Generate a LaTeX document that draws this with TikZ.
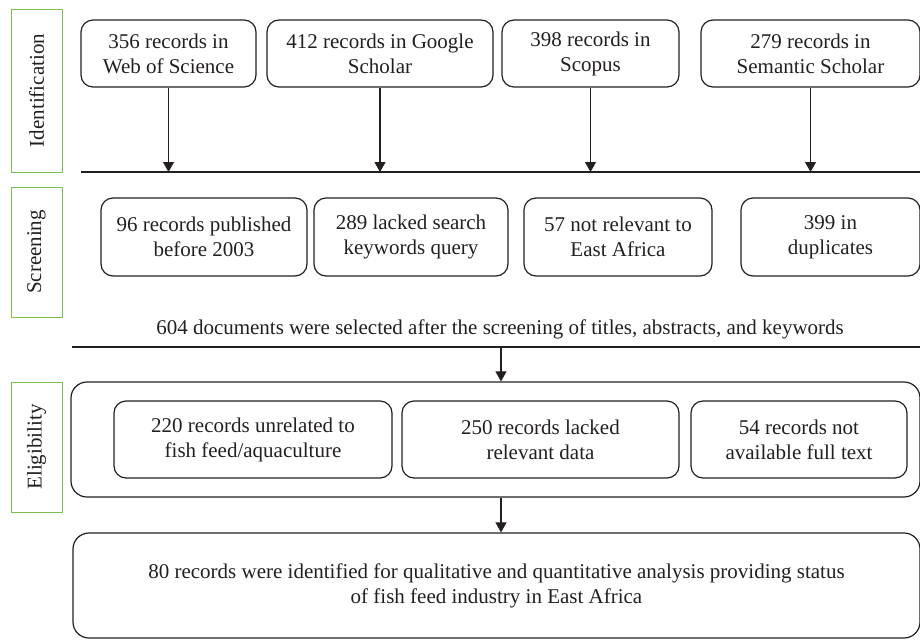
\documentclass[tikz,border=0pt]{standalone}
\usepackage{fontspec}
\setmainfont{Liberation Serif}
\usetikzlibrary{arrows.meta}
\definecolor{lblgreen}{RGB}{122,190,75}
\definecolor{ink}{RGB}{35,31,32}
\begin{document}
\begin{tikzpicture}[x=1pt,y=-1pt, font=\fontsize{21}{25}\selectfont, color=ink,
  box/.style={draw=ink, line width=1.2pt, rounded corners=12pt, align=center, inner sep=0pt},
  big/.style={draw=ink, line width=1.2pt, rounded corners=16pt, align=center, inner sep=0pt},
  lab/.style={draw=lblgreen, line width=1pt, inner sep=0pt, rotate=90, text=ink},
  arr/.style={draw=ink, line width=1.1pt, -{Triangle[width=11pt,length=10pt]}},
  rule/.style={draw=ink, line width=1.2pt}]
\useasboundingbox (0,0) rectangle (920,640);

% stage labels
\node[lab, minimum width=163pt, minimum height=51pt] (gid) at (36.5,90.5) {Identification};
\node[lab, minimum width=130pt, minimum height=51pt] (gsc) at (36.5,252) {Screening};
\node[lab, minimum width=130pt, minimum height=51pt] (gel) at (36.5,447) {Eligibility};

% identification boxes
\node[box, minimum width=175pt, minimum height=67pt] (b1) at (168.5,53.5) {356 records in\\Web of Science};
\node[box, minimum width=226pt, minimum height=67pt] (b2) at (380,53.5) {412 records in Google\\Scholar};
\node[box, minimum width=177pt, minimum height=67pt] (b3) at (590.5,53.5) {398 records in\\Scopus};
\node[box, minimum width=219pt, minimum height=67pt] (b4) at (810.5,53.5) {279 records in\\Semantic Scholar};

\coordinate (L1a) at (81,172);
\coordinate (L1b) at (921,172);
\draw[rule] (L1a) -- (L1b);
\foreach \n in {b1,b2,b3,b4} \draw[arr] (\n.south) -- (\n.south |- L1a);

% screening boxes
\node[box, minimum width=206pt, minimum height=78pt] (s1) at (204,237) {96 records published\\before 2003};
\node[box, minimum width=194pt, minimum height=78pt] (s2) at (411,237) {289 lacked search\\keywords query};
\node[box, minimum width=188pt, minimum height=78pt] (s3) at (618,237) {57 not relevant to\\East Africa};
\node[box, minimum width=179pt, minimum height=78pt] (s4) at (830.5,237) {399 in\\duplicates};

\node[anchor=base, inner sep=0pt] (t604) at (500,334) {604 documents were selected after the screening of titles, abstracts, and keywords};

\coordinate (L2a) at (72,347);
\coordinate (L2b) at (921,347);
\draw[rule] (L2a) -- (L2b);
\coordinate (A2) at (501,347);

% eligibility
\node[big, minimum width=849pt, minimum height=115pt] (outer) at (495.5,439.5) {};
\node[box, minimum width=278pt, minimum height=77pt] (e1) at (253,439.5) {220 records unrelated to\\fish feed/aquaculture};
\node[box, minimum width=277pt, minimum height=77pt] (e2) at (540.5,439.5) {250 records lacked\\relevant data};
\node[box, minimum width=216pt, minimum height=77pt] (e3) at (799,439.5) {54 records not\\available full text};

% final
\node[big, minimum width=847pt, minimum height=105pt] (final) at (496.5,585.5) {80 records were identified for qualitative and quantitative analysis providing status\\of fish feed industry in East Africa};

\draw[arr] (A2) -- (A2 |- outer.north);
\draw[arr] (A2 |- outer.south) -- (A2 |- final.north);
\end{tikzpicture}
\end{document}
